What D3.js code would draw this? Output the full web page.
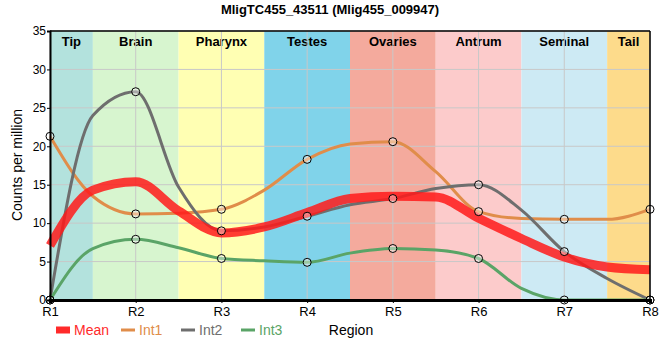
<!DOCTYPE html>
<html><head><meta charset="utf-8">
<script src="https://cdn.jsdelivr.net/npm/d3@7"></script>
<style>body{margin:0;background:#fff;} text{font-family:"Liberation Sans",Arial,sans-serif;}</style>
</head><body><svg id="c" width="660" height="360"></svg>
<script>
const regions = ["R1","R2","R3","R4","R5","R6","R7","R8"];
const tissues = ["Tip","Brain","Pharynx","Testes","Ovaries","Antrum","Seminal","Tail"];
const tissueColors = ["#b3e2dd","#d7f5cf","#ffffb3","#80d3ea","#f4aa9d","#fccbcb","#cdeaf4","#fddb8b"];
// values at each region
const int1 = [21.3, 11.2, 11.8, 18.3, 20.6, 11.5, 10.5, 11.8];
const int2 = [0, 27.1, 9.0, 10.9, 13.2, 15.0, 6.3, 0];
const int3 = [0, 7.9, 5.4, 4.9, 6.7, 5.4, 0, 0];
const meanVals = regions.map((r,i)=>(int1[i]+int2[i]+int3[i])/3);
// curve values read at the band boundaries (between consecutive regions)
const int1Between = [13.5, 11.3, 14.3, 20.3, 16.7, 10.6, 10.5];
const int2Between = [24.0, 14.7, 9.5, 12.4, 14.5, 11.7, 2.8];
const int3Between = [6.7, 6.8, 5.1, 6.1, 6.5, 1.5, 0];
const meanBetween = [14.3, 11.6, 9.5, 13.2, 13.4, 8.0, 4.3];
const yTicks = [0,5,10,15,20,25,30,35];

const svg = d3.select("#c");
const L=50, R=650, T=31, B=300;
const x = d3.scalePoint().domain(regions).range([L,R]);
const y = d3.scaleLinear().domain([0,35]).range([B,T]);
const step = x.step();

// bands
regions.forEach((r,i)=>{
  const x0 = Math.max(L, x(r)-step/2), x1 = Math.min(R, x(r)+step/2);
  svg.append("rect").attr("x",x0).attr("y",T).attr("width",x1-x0).attr("height",B-T).attr("fill",tissueColors[i]);
  svg.append("text").attr("x",(x0+x1)/2).attr("y",T+15).attr("text-anchor","middle")
    .attr("font-size",13).attr("font-weight","bold").attr("fill","#000").text(tissues[i]);
});
// grid
const g = svg.append("g");
yTicks.forEach(t=>g.append("line").attr("x1",L).attr("x2",R).attr("y1",y(t)).attr("y2",y(t)).attr("stroke","#c8c8c8").attr("stroke-width",1));
regions.forEach(r=>g.append("line").attr("x1",x(r)).attr("x2",x(r)).attr("y1",T).attr("y2",B).attr("stroke","#c8c8c8").attr("stroke-width",1));

function knots(vals, between){
  const pts = [];
  vals.forEach((v,i)=>{
    pts.push([x(regions[i]), y(v)]);
    if (i < between.length) pts.push([x(regions[i]) + step/2, y(between[i])]);
  });
  return pts;
}
const line = d3.line().curve(d3.curveMonotoneX);
const series = [
  {name:"Int1", vals:int1, mid:int1Between, color:"#e08d4a"},
  {name:"Int2", vals:int2, mid:int2Between, color:"#6e6e6e"},
  {name:"Int3", vals:int3, mid:int3Between, color:"#5aa467"}
];
series.forEach(s=>{
  svg.append("path").attr("d",line(knots(s.vals,s.mid))).attr("fill","none").attr("stroke",s.color).attr("stroke-width",3);
});
svg.append("path").attr("d",line(knots(meanVals,meanBetween))).attr("fill","none").attr("stroke","#ff1a1a").attr("stroke-opacity",0.85).attr("stroke-width",9);
series.forEach(s=>{
  svg.selectAll(null).data(s.vals).enter().append("circle")
    .attr("cx",(d,i)=>x(regions[i])).attr("cy",d=>y(d)).attr("r",4)
    .attr("fill","#ffffff").attr("fill-opacity",0.4).attr("stroke","#000").attr("stroke-width",1);
});

// frame
svg.append("line").attr("x1",L).attr("x2",R).attr("y1",T).attr("y2",T).attr("stroke","#000").attr("stroke-width",1.5);
svg.append("line").attr("x1",R).attr("x2",R).attr("y1",T).attr("y2",B).attr("stroke","#000").attr("stroke-width",1.5);
// axes
const ya = svg.append("g").attr("transform",`translate(${L},0)`).call(d3.axisLeft(y).tickValues(yTicks).tickSize(3).tickPadding(1));
ya.select(".domain").attr("stroke","#000").attr("stroke-width",2);
ya.selectAll("text").attr("font-size",12).attr("font-family","Liberation Sans, Arial, sans-serif").attr("fill","#000");
const xa = svg.append("g").attr("transform",`translate(0,${B})`).call(d3.axisBottom(x).tickSize(3).tickPadding(4));
xa.select(".domain").attr("stroke","#000").attr("stroke-width",3);
xa.selectAll("text").attr("font-size",13).attr("font-family","Liberation Sans, Arial, sans-serif").attr("fill","#000");

// title
svg.append("text").attr("x",330).attr("y",14).attr("text-anchor","middle").attr("font-size",13).attr("font-weight","bold").text("MligTC455_43511 (Mlig455_009947)");
// y label
svg.append("text").attr("transform","translate(22,165) rotate(-90)").attr("text-anchor","middle").attr("font-size",14).text("Counts per million");

// legend
const leg = [{name:"Mean",color:"#ff2a2a",w:7,x:56},{name:"Int1",color:"#e08d4a",w:3,x:121},{name:"Int2",color:"#6e6e6e",w:3,x:181},{name:"Int3",color:"#5aa467",w:3,x:241}];
leg.forEach(l=>{
  svg.append("line").attr("x1",l.x).attr("x2",l.x+14).attr("y1",330).attr("y2",330).attr("stroke",l.color).attr("stroke-width",l.w);
  svg.append("text").attr("x",l.x+18).attr("y",335).attr("font-size",14).attr("fill",l.color).text(l.name);
});
svg.append("text").attr("x",351).attr("y",335).attr("text-anchor","middle").attr("font-size",14).attr("fill","#000").text("Region");
</script></body></html>
